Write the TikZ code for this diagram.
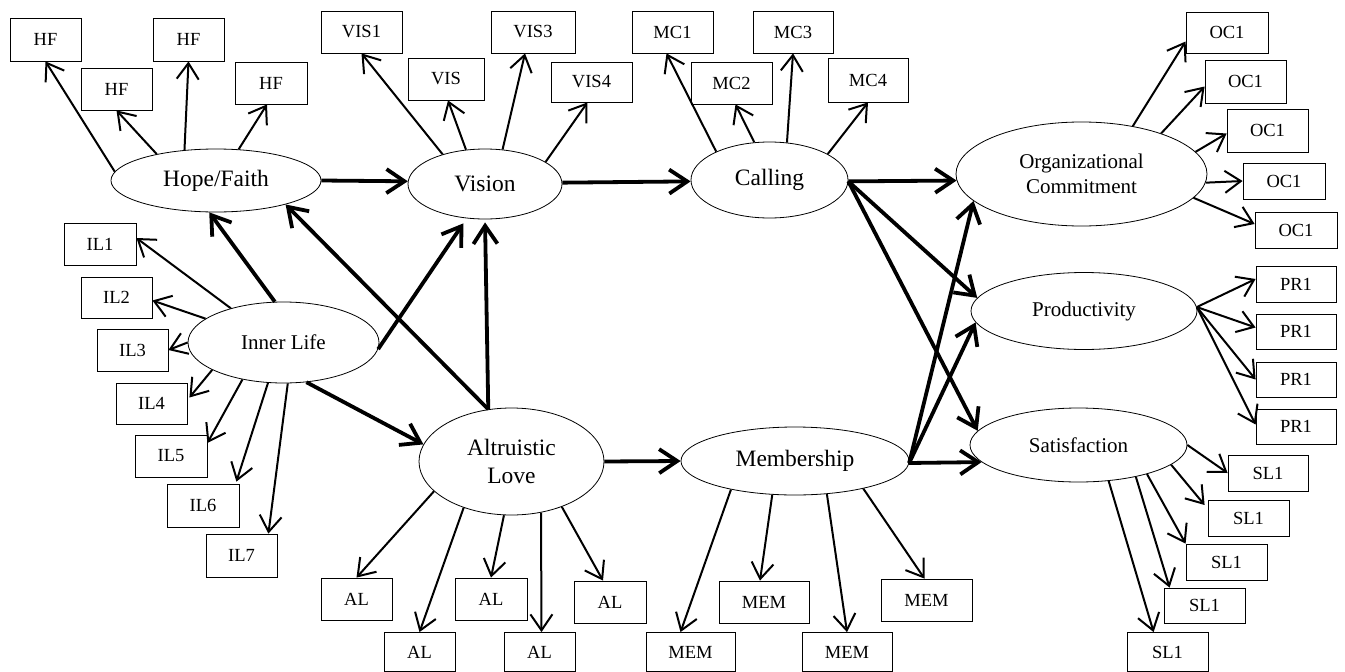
\documentclass[tikz,border=0pt]{standalone}
\usepackage{fontspec}
\setmainfont{Liberation Serif}
\usetikzlibrary{arrows.meta,shapes.geometric,calc}
\tikzset{
  box/.style={draw, line width=0.8pt, inner sep=0pt, font=\fontsize{18.5}{20}\selectfont},
  lat/.style={ellipse, draw, line width=0.8pt, inner sep=0pt, align=center},
  big/.style={font=\fontsize{23.5}{28}\selectfont},
  mid/.style={font=\fontsize{21}{25}\selectfont},
  ind/.style={line width=2pt, -{Straight Barb[length=16pt,width=22pt]}},
  pa/.style={line width=3.8pt, -{Straight Barb[length=18pt,width=24pt]}},
}
\begin{document}
\begin{tikzpicture}[x=1pt,y=-1pt]
\useasboundingbox (0,0) rectangle (1345,672);

% latent variables
\node[lat,big,minimum width=210,minimum height=63] (hopefaith) at (216,180.5) {Hope/Faith};
\node[lat,big,minimum width=154,minimum height=70] (vision) at (485,184) {Vision};
\node[lat,big,minimum width=157,minimum height=76] (calling) at (769.5,180) {Calling};
\node[lat,mid,minimum width=251,minimum height=104] (orgc) at (1081.5,174) {Organizational\\Commitment};
\node[lat,mid,minimum width=191,minimum height=81] (innerlife) at (283.5,342.5) {Inner Life};
\node[lat,big,minimum width=185,minimum height=107] (altlove) at (511.5,461.5) {Altruistic\\Love};
\node[lat,big,minimum width=228,minimum height=68] (membership) at (795,461) {Membership};
\node[lat,mid,minimum width=226,minimum height=77] (productivity) at (1084,311) {Productivity};
\node[lat,mid,minimum width=217,minimum height=74] (satisfaction) at (1078.5,445) {Satisfaction};

% indicator boxes
\node[box,minimum width=71,minimum height=43] (hf1) at (45.5,39.5) {HF};
\node[box,minimum width=71,minimum height=42] (hf2) at (116.5,89) {HF};
\node[box,minimum width=71,minimum height=43] (hf3) at (188.5,39.5) {HF};
\node[box,minimum width=72,minimum height=42] (hf4) at (271,83) {HF};
\node[box,minimum width=81,minimum height=42] (vis1) at (361.5,32) {VIS1};
\node[box,minimum width=76,minimum height=42] (vis2) at (446,79) {VIS};
\node[box,minimum width=84,minimum height=42] (vis3) at (533,32) {VIS3};
\node[box,minimum width=81,minimum height=40] (vis4) at (591.5,82) {VIS4};
\node[box,minimum width=81,minimum height=42] (mc1) at (672.5,32) {MC1};
\node[box,minimum width=81,minimum height=42] (mc2) at (731.5,83) {MC2};
\node[box,minimum width=80,minimum height=42] (mc3) at (793,32) {MC3};
\node[box,minimum width=80,minimum height=44] (mc4) at (868,80) {MC4};
\node[box,minimum width=82,minimum height=41] (oc1) at (1227,32.5) {OC1};
\node[box,minimum width=81,minimum height=43] (oc2) at (1245.5,81.5) {OC1};
\node[box,minimum width=81,minimum height=43] (oc3) at (1267.5,130.5) {OC1};
\node[box,minimum width=82,minimum height=36] (oc4) at (1284,181) {OC1};
\node[box,minimum width=82,minimum height=36] (oc5) at (1296,230) {OC1};
\node[box,minimum width=72,minimum height=42] (il1) at (100,244) {IL1};
\node[box,minimum width=71,minimum height=41] (il2) at (116.5,297.5) {IL2};
\node[box,minimum width=71,minimum height=42] (il3) at (132.5,350) {IL3};
\node[box,minimum width=71,minimum height=41] (il4) at (151.5,403.5) {IL4};
\node[box,minimum width=72,minimum height=42] (il5) at (171,456) {IL5};
\node[box,minimum width=72,minimum height=43] (il6) at (203,505.5) {IL6};
\node[box,minimum width=71,minimum height=43] (il7) at (241.5,555.5) {IL7};
\node[box,minimum width=71,minimum height=42] (al1) at (356.5,599) {AL};
\node[box,minimum width=71,minimum height=39] (al2) at (419.5,652) {AL};
\node[box,minimum width=72,minimum height=42] (al3) at (491,599) {AL};
\node[box,minimum width=71,minimum height=39] (al4) at (539.5,652) {AL};
\node[box,minimum width=72,minimum height=42] (al5) at (610,602) {AL};
\node[box,minimum width=89,minimum height=39] (mem1) at (690.5,652) {MEM};
\node[box,minimum width=90,minimum height=42] (mem2) at (764,602) {MEM};
\node[box,minimum width=90,minimum height=39] (mem3) at (847,652) {MEM};
\node[box,minimum width=91,minimum height=42] (mem4) at (926.5,600) {MEM};
\node[box,minimum width=80,minimum height=36] (pr1) at (1296,284) {PR1};
\node[box,minimum width=80,minimum height=35] (pr2) at (1296,331.5) {PR1};
\node[box,minimum width=80,minimum height=35] (pr3) at (1296,379.5) {PR1};
\node[box,minimum width=80,minimum height=35] (pr4) at (1296,426.5) {PR1};
\node[box,minimum width=80,minimum height=36] (sl1) at (1268,473) {SL1};
\node[box,minimum width=81,minimum height=36] (sl2) at (1248.5,518) {SL1};
\node[box,minimum width=81,minimum height=36] (sl3) at (1226.5,562) {SL1};
\node[box,minimum width=81,minimum height=35] (sl4) at (1204.5,605.5) {SL1};
\node[box,minimum width=81,minimum height=39] (sl5) at (1167.5,652) {SL1};

% indicator arrows
\draw[ind] (hopefaith.175) -- (hf1.south);
\draw[ind] (hopefaith.156) -- (hf2.south);
\draw[ind] (hopefaith.136.5) -- (hf3.south);
\draw[ind] (hopefaith.54) -- ($(hf4.south)+(-4,0)$);

\draw[ind] (vision.145) -- (vis1.south);
\draw[ind] (vision.119) -- ($(vis2.south)+(2,0)$);
\draw[ind] (vision.63) -- ($(vis3.south)+(-8,0)$);
\draw[ind] (vision.20) -- ($(vis4.south)+(-4,0)$);

\draw[ind] (calling.152) -- ($(mc1.south)+(-6,0)$);
\draw[ind] (calling.112) -- ($(mc2.south)+(4,0)$);
\draw[ind] (calling.65) -- (mc3.south);
\draw[ind] (calling.24) -- (mc4.south);

\draw[ind] (orgc.43) -- ($(oc1.west)+(0,9)$);
\draw[ind] (orgc.27) -- ($(oc2.west)+(0,5)$);
\draw[ind] (orgc.11) -- ($(oc3.west)+(0,3)$);
\draw[ind] (orgc.-4) -- (oc4.west);
\draw[ind] (orgc.-12) -- ($(oc5.west)+(0,-6)$);

\draw[ind] (innerlife.147) -- ($(il1.east)+(0,-6)$);
\draw[ind] (innerlife.163) -- ($(il2.east)+(0,3)$);
\draw[ind] (innerlife.180) -- (il3.east);
\draw[ind] (innerlife.201.5) -- ($(il4.east)+(2,-6)$);
\draw[ind] (innerlife.222) -- ($(il5.east)+(0,-13)$);
\draw[ind] (innerlife.249) -- ($(il6.north east)+(-3,-2)$);
\draw[ind] (innerlife.276) -- ($(il7.north east)+(-9,0)$);

\draw[ind] (altlove.201) -- (al1.north);
\draw[ind] (altlove.224) -- (al2.north);
\draw[ind] (altlove.262) -- (al3.north);
\draw[ind] (altlove.300) -- ($(al4.north)+(2,0)$);
\draw[ind] (altlove.318) -- ($(al5.north)+(-7,0)$);

\draw[ind] (membership.204) -- ($(mem1.north)+(-10,0)$);
\draw[ind] (membership.236) -- ($(mem2.north)+(-4,0)$);
\draw[ind] (membership.314) -- (mem3.north);
\draw[ind] (membership.-22) -- ($(mem4.north)+(-2,0)$);

\draw[ind] (productivity.2) -- ($(pr1.west)+(0,-5)$);
\draw[ind] (productivity.2) -- ($(pr2.west)+(0,-4)$);
\draw[ind] (productivity.2) -- (pr3.west);
\draw[ind] (productivity.2) -- ($(pr4.west)+(0,-2)$);

\draw[ind] (satisfaction.0) -- (sl1.west);
\draw[ind] (satisfaction.-12.5) -- ($(sl2.west)+(-3,-13)$);
\draw[ind] (satisfaction.-23) -- (sl3.north west);
\draw[ind] (satisfaction.-29) -- ($(sl4.north west)+(6,0)$);
\draw[ind] (satisfaction.-50) -- ($(sl5.north west)+(27,0)$);

% structural paths
\draw[pa] (hopefaith.0) -- (vision.178);
\draw[pa] (vision.1.5) -- (calling.181.5);
\draw[pa] (calling.-1.5) -- (orgc.183.7);
\draw[pa] (calling.-1.5) -- (productivity.173);
\draw[pa] (calling.-1.5) -- (satisfaction.172.7);
\draw[pa] (innerlife.102) -- (hopefaith.258.5);
\draw[pa,shorten >=6pt] (innerlife.-4) -- (vision.242);
\draw[pa] (innerlife.300) -- (altlove.169);
\draw[pa] (altlove.114.6) -- (hopefaith.-19.7);
\draw[pa,shorten >=3pt] (altlove.114.6) -- (vision.south);
\draw[pa] (altlove.0) -- (membership.180);
\draw[pa] (membership.-1) -- (orgc.194.8);
\draw[pa] (membership.-1) -- (productivity.186.4);
\draw[pa] (membership.-1) -- (satisfaction.190.75);
\end{tikzpicture}
\end{document}
